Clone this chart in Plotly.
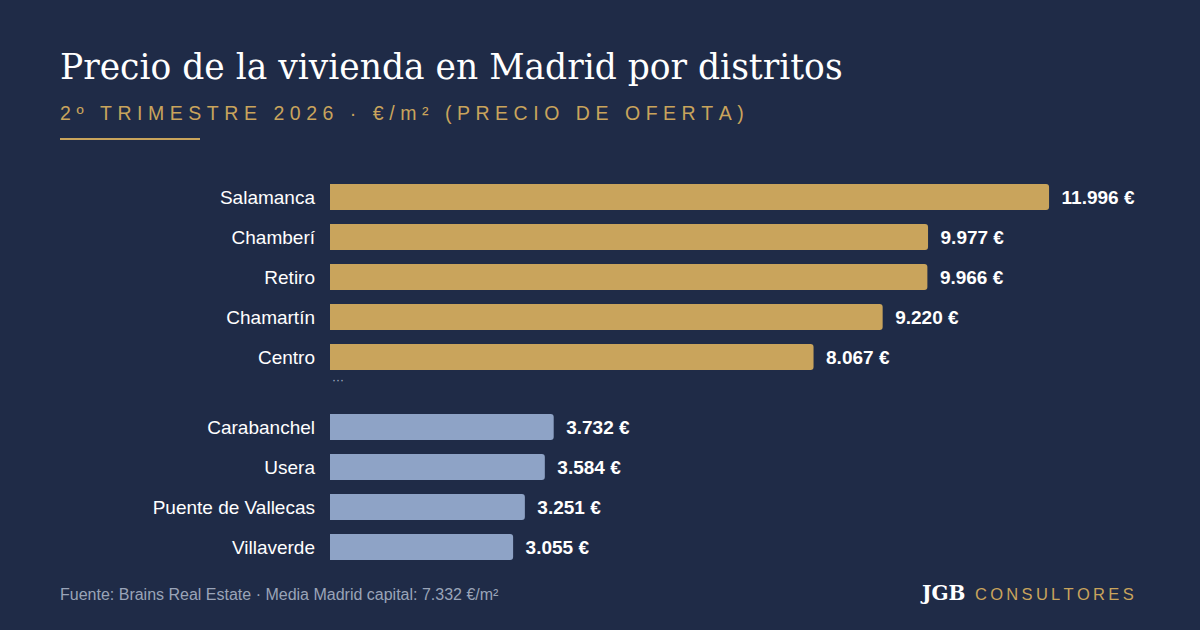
import plotly.graph_objects as go

districts = ["Salamanca", "Chamberí", "Retiro", "Chamartín", "Centro",
             "Carabanchel", "Usera", "Puente de Vallecas", "Villaverde"]
prices = [11996, 9977, 9966, 9220, 8067, 3732, 3584, 3251, 3055]
groups = ["top", "top", "top", "top", "top", "bottom", "bottom", "bottom", "bottom"]
rows = [0, 1, 2, 3, 4, 5.75, 6.75, 7.75, 8.75]

BG = "#1f2b47"
GOLD = "#c9a45c"
BLUE = "#8ea3c6"

def fmt(v):
    return "\u2002" + f"{v:,}".replace(",", ".") + " €"

colors = [GOLD if g == "top" else BLUE for g in groups]

fig = go.Figure(go.Bar(
    x=prices, y=rows, orientation="h", marker=dict(color=colors, line=dict(width=0)),
    width=0.65, text=[fmt(v) for v in prices], textposition="outside",
    textfont=dict(family="Liberation Sans", size=19, color="white", weight="bold"),
    cliponaxis=False, hoverinfo="skip"))

fig.update_layout(
    width=1200, height=630, paper_bgcolor=BG, plot_bgcolor=BG,
    margin=dict(l=330, r=50, t=177, b=63), barcornerradius=3,
    showlegend=False,
    xaxis=dict(range=[0, 13680], visible=False, fixedrange=True),
    yaxis=dict(range=[9.25, -0.5], tickvals=rows, ticktext=districts,
               showgrid=False, zeroline=False, ticks="", ticklabelstandoff=14,
               tickfont=dict(family="Liberation Sans", size=19, color="white")),
    font=dict(family="Liberation Sans"),
)

def ptxt(x, y, s, size, color, family="Liberation Sans", anchor="left"):
    px = (x - 330) / (1200 - 330 - 50)
    py = (630 - 63 - y) / (630 - 177 - 63)
    fig.add_annotation(x=px, y=py, xref="paper", yref="paper", text=s, showarrow=False,
                       xanchor=anchor, yanchor="middle",
                       font=dict(family=family, size=size, color=color))

def spaced(s, sp):
    return sp.join(s)

ptxt(58, 67, "Precio de la vivienda en Madrid por distritos", 34.5, "white", "DejaVu Serif")
ptxt(58, 113, spaced("2º TRIMESTRE 2026 · €/m² (PRECIO DE OFERTA)", "\u2009\u200a"), 19.5, GOLD)
ptxt(330, 380, "···", 12, "#aab4c8")
ptxt(58, 594, "Fuente: Brains Real Estate · Media Madrid capital: 7.332 €/m²", 16, "#9aa4b8")
ptxt(918, 593, "<b>JGB</b>", 20, "white", "DejaVu Serif")
ptxt(973, 594, spaced("CONSULTORES", "\u2009"), 16.5, GOLD)

x0 = (60 - 330) / 820; x1 = (200 - 330) / 820
yl = (630 - 63 - 139) / 390
fig.add_shape(type="line", xref="paper", yref="paper", x0=x0, x1=x1, y0=yl, y1=yl,
              line=dict(color=GOLD, width=2))

fig.write_html("out.html", config={"displayModeBar": False})
with open("out.html", encoding="utf-8") as f:
    h = f.read()
h = h.replace("<body>", '<body style="margin:0;background:%s">' % BG, 1)
with open("out.html", "w", encoding="utf-8") as f:
    f.write(h)
